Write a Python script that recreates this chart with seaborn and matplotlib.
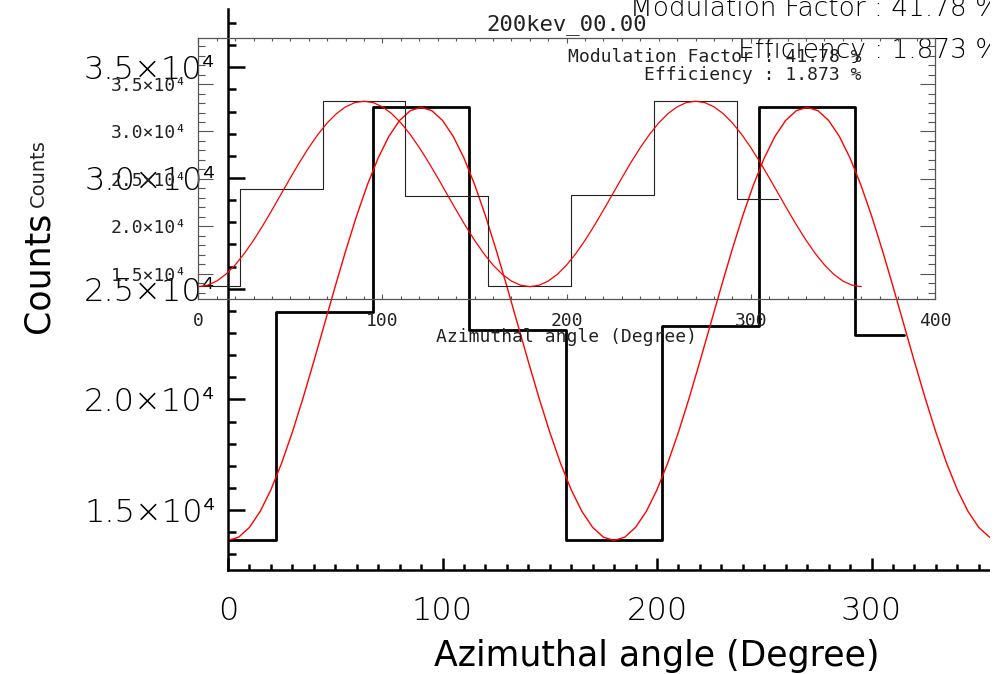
"""
Azimuthal modulation curve, 200 keV run (two overlapping plots)
"""

import matplotlib
matplotlib.use("Agg")
import matplotlib.pyplot as plt
from matplotlib.patches import Rectangle
from matplotlib.ticker import FixedLocator, FixedFormatter, MultipleLocator
import seaborn as sns

# measured counts per azimuthal bin
angles = [0, 45, 90, 135, 180, 225, 270, 315]
counts = [13660, 23930, 33190, 23140, 13660, 23330, 33190, 22920]

# fitted modulation curve, read every 5 degrees
fit_angles = list(range(0, 361, 5))
fit_counts = [
    13629, 13778, 14219, 14940, 15918, 17123, 18519, 20065, 21712, 23410,
    25108, 26755, 28301, 29697, 30902, 31880, 32601, 33042, 33191,
    33042, 32601, 31880, 30902, 29697, 28301, 26755, 25108, 23410,
    21712, 20065, 18519, 17123, 15918, 14940, 14219, 13778, 13629,
    13778, 14219, 14940, 15918, 17123, 18519, 20065, 21712, 23410,
    25108, 26755, 28301, 29697, 30902, 31880, 32601, 33042, 33191,
    33042, 32601, 31880, 30902, 29697, 28301, 26755, 25108, 23410,
    21712, 20065, 18519, 17123, 15918, 14940, 14219, 13778, 13629,
]

x_ticks = [0, 100, 200, 300, 400]
x_tick_labels = ["0", "100", "200", "300", "400"]
y_ticks = [15000, 20000, 25000, 30000, 35000]
y_tick_labels = ["1.5×10⁴", "2.0×10⁴", "2.5×10⁴", "3.0×10⁴", "3.5×10⁴"]

title = "200kev_00.00"
mod_text = "Modulation Factor : 41.78 %"
eff_text = "Efficiency : 1.873 %"
x_label = "Azimuthal angle (Degree)"
y_label = "Counts"

sns.set_style("white")
plt.rcParams["font.family"] = ["DejaVu Sans"]
plt.rcParams["font.weight"] = "light"
plt.rcParams["text.color"] = "black"
plt.rcParams["axes.labelcolor"] = "black"
MONO = ["DejaVu Sans Mono", "DejaVu Sans"]

W, H = 1008, 674
fig = plt.figure(figsize=(W / 100, H / 100), dpi=100)


def px_box(x0, y0, x1, y1):
    return [x0 / W, 1 - y1 / H, (x1 - x0) / W, (y1 - y0) / H]


# ---- big plot (runs off the window on the right and top) ----
big = fig.add_axes(px_box(228, 9, 1086, 570), facecolor="none")
sns.lineplot(x=angles, y=counts, drawstyle="steps-mid", color="black",
             lw=2.0, estimator=None, ax=big)
sns.lineplot(x=fit_angles, y=fit_counts, color="red", lw=1.0,
             estimator=None, ax=big)
big.set_xlim(0, 400)
big.set_ylim(12294, 37633)
for side in ["top", "right"]:
    big.spines[side].set_visible(False)
for side in ["left", "bottom"]:
    big.spines[side].set_linewidth(1.8)
    big.spines[side].set_color("black")
# the 400 label sits outside the window, so only 0-300 are labelled
big.xaxis.set_major_locator(FixedLocator(x_ticks[:4]))
big.xaxis.set_major_formatter(FixedFormatter(x_tick_labels[:4]))
big.xaxis.set_minor_locator(MultipleLocator(10))
big.yaxis.set_major_locator(FixedLocator(y_ticks))
big.yaxis.set_major_formatter(FixedFormatter(y_tick_labels))
big.yaxis.set_minor_locator(MultipleLocator(1000))
big.tick_params(axis="both", which="both", direction="in", bottom=True, left=True,
                top=False, right=False, width=1.8, color="black")
big.tick_params(axis="x", which="major", length=8.6, pad=19, labelsize=23,
                labelcolor="black")
big.tick_params(axis="x", which="minor", length=4.3)
big.tick_params(axis="y", which="major", length=12.2, pad=9, labelsize=23,
                labelcolor="black")
big.tick_params(axis="y", which="minor", length=6.1)
big.set_xlabel(x_label, fontsize=25)
big.xaxis.set_label_coords(0.5, -0.123)
big.set_ylabel(y_label, fontsize=25)
big.yaxis.set_label_coords(-0.2016, 0.531)
big.text(360, 37300, mod_text, fontsize=19, ha="right", va="baseline", clip_on=False)
big.text(360, 35440, eff_text, fontsize=19, ha="right", va="baseline", clip_on=False)

# ---- inset plot drawn on top ----
small = fig.add_axes(px_box(198.3, 38.3, 935, 299.3), facecolor="none")
sns.lineplot(x=angles, y=counts, drawstyle="steps-mid", color="#222222",
             lw=0.8, estimator=None, ax=small)
sns.lineplot(x=fit_angles, y=fit_counts, color="red", lw=0.9,
             estimator=None, ax=small)
small.set_xlim(0, 400)
small.set_ylim(12294, 39828)
for side in small.spines.values():
    side.set_visible(True)
    side.set_linewidth(0.9)
    side.set_color("#555555")
small.xaxis.set_major_locator(FixedLocator(x_ticks))
small.xaxis.set_major_formatter(FixedFormatter(x_tick_labels))
small.xaxis.set_minor_locator(MultipleLocator(10))
small.yaxis.set_major_locator(FixedLocator(y_ticks))
small.yaxis.set_major_formatter(FixedFormatter(y_tick_labels))
small.yaxis.set_minor_locator(MultipleLocator(1000))
small.tick_params(axis="both", which="both", direction="in", bottom=True, left=True,
                  top=True, right=True, width=0.8, color="#555555")
small.tick_params(axis="x", which="major", length=3.8, pad=8.9, labelsize=13,
                  labelcolor="#222222")
small.tick_params(axis="x", which="minor", length=1.9)
small.tick_params(axis="y", which="major", length=10.6, pad=8, labelsize=13,
                  labelcolor="#222222")
small.tick_params(axis="y", which="minor", length=5.3)
for lab in small.get_xticklabels() + small.get_yticklabels():
    lab.set_fontfamily(MONO)
small.set_title(title, fontsize=16, family=MONO, pad=6, color="#222222")
small.set_xlabel(x_label, fontsize=13, family=MONO, color="#222222")
small.xaxis.set_label_coords(0.5, -0.110)
small.set_ylabel(y_label, fontsize=14, color="#222222")
small.yaxis.set_label_coords(-0.2046, 0.484)
small.text(360, 37300, mod_text, fontsize=13, family=MONO, ha="right",
           va="baseline", color="#222222")
small.text(360, 35440, eff_text, fontsize=13, family=MONO, ha="right",
           va="baseline", color="#222222")

# the original window ends a little before the image edge
fig.add_artist(Rectangle((990 / W, 0), 18 / W, 1, transform=fig.transFigure,
                         facecolor="white", edgecolor="none", zorder=10))

fig.savefig("out.png", dpi=100)
plt.close(fig)
print("Saved out.png")
